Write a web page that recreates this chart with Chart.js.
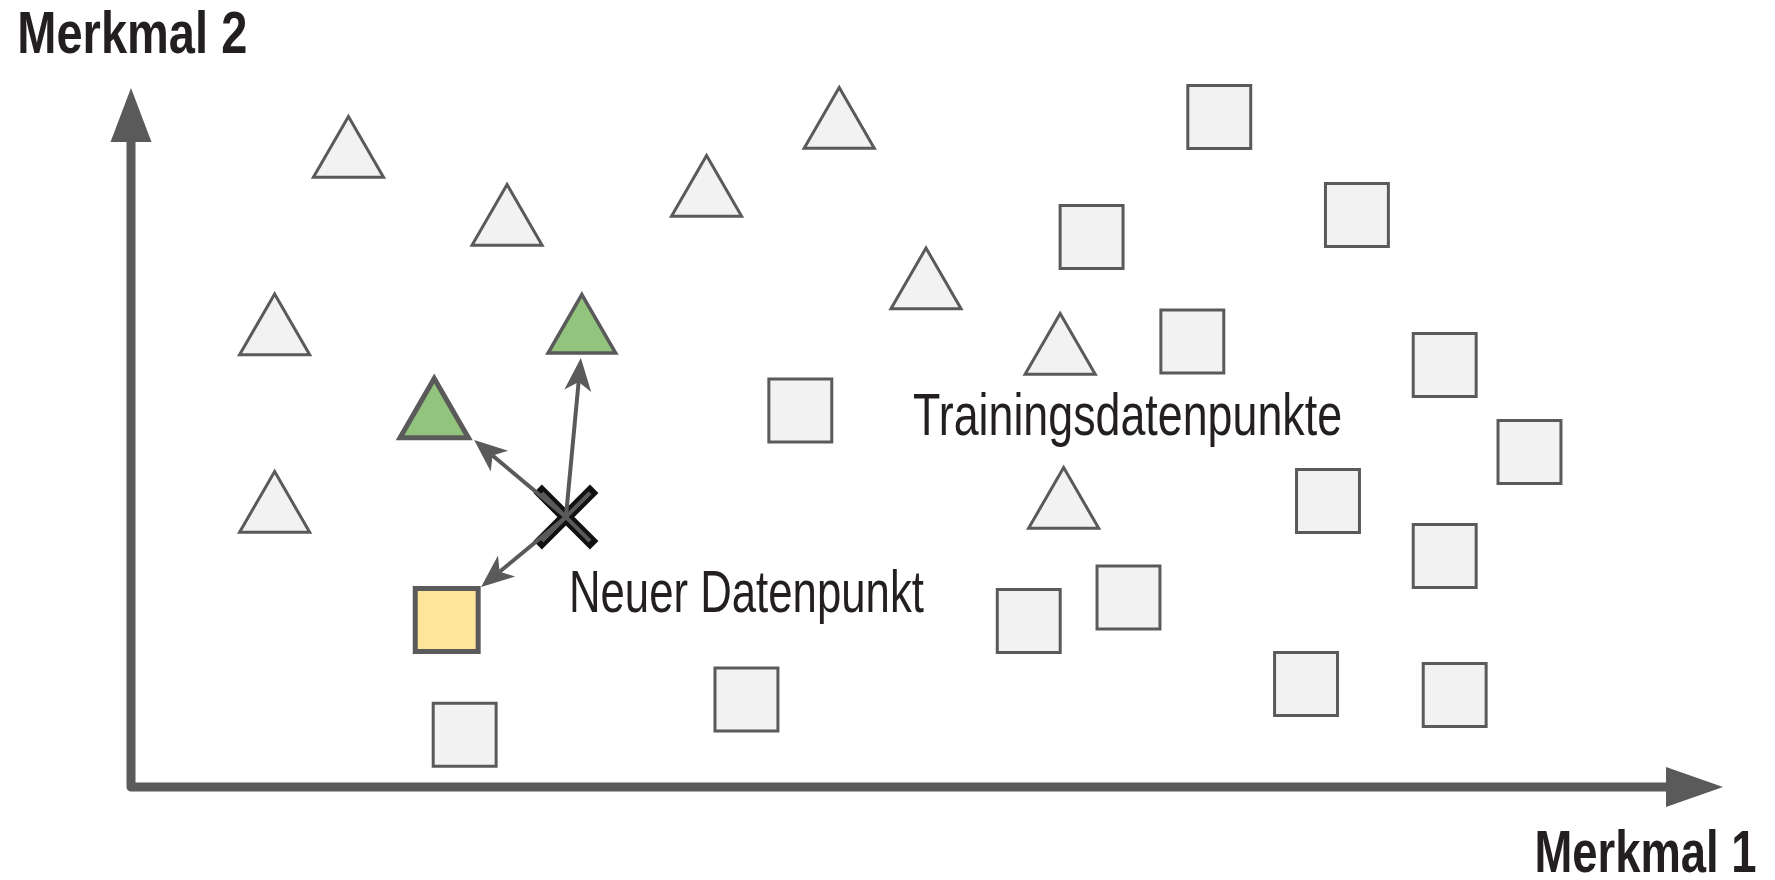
<!DOCTYPE html>
<html lang="de">
<head>
<meta charset="utf-8">
<title>Merkmal 1 / Merkmal 2 – neuer Datenpunkt</title>
<script src="https://cdn.jsdelivr.net/npm/chart.js@4.4.1/dist/chart.umd.min.js"></script>
<style>
  html, body { margin: 0; padding: 0; background: #fff; }
  #wrap { width: 1775px; height: 880px; position: relative; }
</style>
</head>
<body>
<div id="wrap"><canvas id="chart-knn"></canvas></div>
<script>
// Werte (Einheiten der beiden Merkmale)
const triangleX = [21.8, 37.7, 14.4, 14.4, 71.0, 57.7, 79.7, 93.15, 93.5];
const triangleY = [63.0, 56.2, 45.25, 27.5, 65.9, 59.1, 49.85, 43.3, 27.9];

const nearTriangleX = [30.4, 45.2];
const nearTriangleY = [36.9, 45.35];

const squareX = [109.1, 122.9, 96.3, 106.4, 131.7, 67.1, 140.2, 120.0, 131.7, 100.0, 90.0, 117.8, 132.7, 61.7, 33.45];
const squareY = [67.0, 57.2, 55.0, 44.55, 42.2, 37.65, 33.5, 28.6, 23.1, 18.95, 16.6, 10.3, 9.2, 8.75, 5.23];

const nearSquareX = [31.65];
const nearSquareY = [16.7];

const newPointX = [43.6];
const newPointY = [27.0];

// Endpunkte der Pfeile (neuer Punkt -> nächste Nachbarn)
const arrowEndX = [34.4, 45.1, 35.1];
const arrowEndY = [34.7, 42.9, 20.0];

const axisMax = [159.6, 69.9];
const axisTitles = ['Merkmal 1', 'Merkmal 2'];
const noteTexts = ['Neuer Datenpunkt', 'Trainingsdatenpunkte'];

const GREY = '#5a5a5a';
const TEXT = '#231f20';
const FONT = '"Liberation Sans Narrow", "Liberation Sans", Arial, sans-serif';

function pts(xs, ys) {
  return xs.map((x, i) => ({ x: x, y: ys[i] }));
}

// Text auf eine feste Breite stauchen (schmale Schrift wie im Original)
function fitText(ctx, text, x, y, width, font) {
  ctx.font = font;
  const w = ctx.measureText(text).width;
  ctx.save();
  ctx.translate(x, y);
  ctx.scale(width / w, 1);
  ctx.fillText(text, 0, 0);
  ctx.restore();
}

const axesPlugin = {
  id: 'arrowAxes',
  beforeDatasetsDraw(chart) {
    const { ctx, scales: { x, y } } = chart;
    const x0 = x.getPixelForValue(0), y0 = y.getPixelForValue(0);
    const x1 = x.getPixelForValue(x.max), y1 = y.getPixelForValue(y.max);
    ctx.save();
    ctx.strokeStyle = GREY;
    ctx.fillStyle = GREY;
    ctx.lineWidth = 9;
    ctx.lineJoin = 'round';
    ctx.beginPath();
    ctx.moveTo(x0, y1 + 50);
    ctx.lineTo(x0, y0);
    ctx.lineTo(x1 - 52, y0);
    ctx.stroke();
    // Pfeilspitzen der Achsen
    ctx.beginPath();
    ctx.moveTo(x0, y1);
    ctx.lineTo(x0 - 20.5, y1 + 54);
    ctx.lineTo(x0 + 20.5, y1 + 54);
    ctx.closePath();
    ctx.fill();
    ctx.beginPath();
    ctx.moveTo(x1, y0);
    ctx.lineTo(x1 - 57, y0 - 20);
    ctx.lineTo(x1 - 57, y0 + 20);
    ctx.closePath();
    ctx.fill();
    ctx.restore();
  }
};

const arrowsPlugin = {
  id: 'neighbourArrows',
  afterDatasetsDraw(chart) {
    const { ctx, scales: { x, y } } = chart;
    const sx = x.getPixelForValue(newPointX[0]);
    const sy = y.getPixelForValue(newPointY[0]);
    ctx.save();
    ctx.strokeStyle = GREY;
    ctx.fillStyle = GREY;
    ctx.lineWidth = 4;
    arrowEndX.forEach((ex, i) => {
      const tx = x.getPixelForValue(ex);
      const ty = y.getPixelForValue(arrowEndY[i]);
      const a = Math.atan2(ty - sy, tx - sx);
      const L = 33, W = 13.5, N = 24;
      const nx = tx - Math.cos(a) * N, ny = ty - Math.sin(a) * N;
      ctx.beginPath();
      ctx.moveTo(sx, sy);
      ctx.lineTo(nx, ny);
      ctx.stroke();
      const bx = tx - Math.cos(a) * L, by = ty - Math.sin(a) * L;
      const px = -Math.sin(a) * W, py = Math.cos(a) * W;
      ctx.beginPath();
      ctx.moveTo(tx, ty);
      ctx.lineTo(bx + px, by + py);
      ctx.lineTo(nx, ny);
      ctx.lineTo(bx - px, by - py);
      ctx.closePath();
      ctx.fill();
    });
    ctx.restore();
  }
};

const labelsPlugin = {
  id: 'textLabels',
  afterDraw(chart) {
    const { ctx, scales: { x, y } } = chart;
    ctx.save();
    ctx.fillStyle = TEXT;
    ctx.textAlign = 'left';
    ctx.textBaseline = 'alphabetic';
    fitText(ctx, axisTitles[1], x.getPixelForValue(-11.4), y.getPixelForValue(73.4), 230, 'bold 60px ' + FONT);
    fitText(ctx, axisTitles[0], x.getPixelForValue(140.7), y.getPixelForValue(-8.5), 222, 'bold 60px ' + FONT);
    fitText(ctx, noteTexts[0], x.getPixelForValue(43.9), y.getPixelForValue(17.55), 355, '60px ' + FONT);
    fitText(ctx, noteTexts[1], x.getPixelForValue(78.4), y.getPixelForValue(35.2), 429, '60px ' + FONT);
    ctx.restore();
  }
};

new Chart(document.getElementById('chart-knn'), {
  type: 'scatter',
  data: {
    datasets: [
      {
        label: 'Neuer Datenpunkt (innen)',
        data: pts(newPointX, newPointY),
        pointStyle: 'crossRot',
        pointRadius: 34,
        pointBorderWidth: 4,
        pointBorderColor: GREY,
        clip: false
      },
      {
        label: 'Neuer Datenpunkt',
        data: pts(newPointX, newPointY),
        pointStyle: 'crossRot',
        pointRadius: 40,
        pointBorderWidth: 12,
        pointBorderColor: '#111111',
        clip: false
      },
      {
        label: 'Nachbar Quadrat',
        data: pts(nearSquareX, nearSquareY),
        pointStyle: 'rect',
        pointRadius: 44.5,
        pointBorderWidth: 5,
        pointBackgroundColor: '#ffe599',
        pointBorderColor: GREY,
        clip: false
      },
      {
        label: 'Nachbarn Dreieck',
        data: pts(nearTriangleX, nearTriangleY),
        pointStyle: 'triangle',
        pointRadius: [39.5, 39],
        pointBorderWidth: [5, 3.5],
        pointBackgroundColor: '#93c47d',
        pointBorderColor: GREY,
        clip: false
      },
      {
        label: 'Quadrate',
        data: pts(squareX, squareY),
        pointStyle: 'rect',
        pointRadius: 44.5,
        pointBorderWidth: 3,
        pointBackgroundColor: '#f2f2f2',
        pointBorderColor: GREY,
        clip: false
      },
      {
        label: 'Dreiecke',
        data: pts(triangleX, triangleY),
        pointStyle: 'triangle',
        pointRadius: 40.5,
        pointBorderWidth: 3,
        pointBackgroundColor: '#f2f2f2',
        pointBorderColor: GREY,
        clip: false
      }
    ]
  },
  options: {
    responsive: true,
    maintainAspectRatio: false,
    animation: false,
    events: [],
    layout: { padding: { left: 131, right: 48, top: 88, bottom: 93 } },
    plugins: {
      legend: { display: false },
      tooltip: { enabled: false }
    },
    scales: {
      x: { type: 'linear', min: 0, max: axisMax[0], display: false },
      y: { type: 'linear', min: 0, max: axisMax[1], display: false }
    }
  },
  plugins: [axesPlugin, arrowsPlugin, labelsPlugin]
});
</script>
</body>
</html>
